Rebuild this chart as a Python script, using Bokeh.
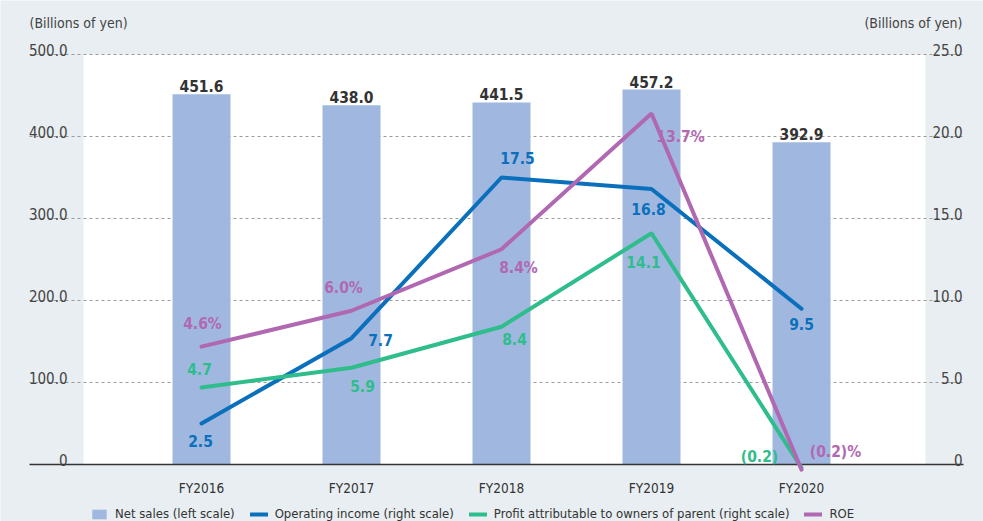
from bokeh.plotting import figure
from bokeh.models import Range1d, ColumnDataSource, Legend, LegendItem
from bokeh.core.properties import value
from bokeh.embed import file_html
from bokeh.resources import INLINE

# ---------------- data ----------------
categories = ["FY2016", "FY2017", "FY2018", "FY2019", "FY2020"]
net_sales = [451.6, 438.0, 441.5, 457.2, 392.9]           # left scale
operating_income = [2.5, 7.7, 17.5, 16.8, 9.5]           # right scale
profit_parent = [4.7, 5.9, 8.4, 14.1, -0.2]              # right scale
roe = [4.6, 6.0, 8.4, 13.7, -0.2]                        # %, own scale (0-16)
left_ticks = [0, 100, 200, 300, 400, 500]
left_tick_labels = ["0", "100.0", "200.0", "300.0", "400.0", "500.0"]
right_ticks = [0, 5, 10, 15, 20, 25]
right_tick_labels = ["0", "5.0", "10.0", "15.0", "20.0", "25.0"]
unit_label = "(Billions of yen)"
series_names = ["Net sales (left scale)", "Operating income (right scale)",
                "Profit attributable to owners of parent (right scale)", "ROE"]

# ---------------- styles ----------------
FONT = "DejaVu Sans Condensed, Roboto, sans-serif"
BG = "#e8eef1"
BAR = "#a0b8e0"
BLUE = "#0a70bc"
GREEN = "#2ebd8b"
PURPLE = "#b168b2"
TEXT = "#333333"

W, H = 983, 521
PX = 0.82                     # pixels per left-scale unit
RIGHT_F = 20.0                # left units per right unit
ROE_F = 500.0 / 16.0          # left units per ROE point
BASE = 464                    # pixel row of the zero line
X0, DX = 201, 150             # pixel column of first category, spacing
y_lo, y_hi = (BASE - H) / PX, BASE / PX

xs = list(range(len(categories)))

p = figure(width=W, height=H, output_backend="svg", toolbar_location=None,
           x_range=Range1d(-X0 / DX, (W - X0) / DX), y_range=Range1d(y_lo, y_hi),
           x_axis_location=None, y_axis_location=None,
           min_border_left=0, min_border_right=0,
           min_border_top=0, min_border_bottom=0)
p.extra_y_ranges = {"right": Range1d(y_lo / RIGHT_F, y_hi / RIGHT_F),
                    "roe": Range1d(y_lo / ROE_F, y_hi / ROE_F)}
p.background_fill_color = BG
p.border_fill_color = BG
p.outline_line_color = None
p.grid.visible = False

# white plotting panel
p.quad(left=[(83 - X0) / DX], right=[(925 - X0) / DX], bottom=[0],
       top=[left_ticks[-1]], fill_color="white", line_color=None)

# gridlines
gx0, gx1 = (29 - X0) / DX, (963 - X0) / DX
p.segment(x0=[gx0] * (len(left_ticks) - 1), x1=[gx1] * (len(left_ticks) - 1),
          y0=left_ticks[1:], y1=left_ticks[1:], line_color="#9a9a9a",
          line_width=1, line_dash="3 3")

# bars
bars = p.vbar(x=xs, top=net_sales, bottom=0, width=58 / DX, fill_color=BAR,
              line_color=None)

# baseline
p.segment(x0=[gx0], x1=[gx1], y0=[0], y1=[0], line_color="#333333", line_width=1.5)

# lines
r_op = p.line(xs, operating_income, y_range_name="right", line_color=BLUE,
              line_width=4, line_cap="round")
r_pr = p.line(xs, profit_parent, y_range_name="right", line_color=GREEN,
              line_width=4, line_cap="round")
r_roe = p.line(xs, roe, y_range_name="roe", line_color=PURPLE,
               line_width=4, line_cap="round")

# category labels
p.text(x=xs, y=[0] * len(xs), text=categories, text_align="center",
       text_baseline="middle", y_offset=23, text_font=value(FONT),
       text_font_size="13.5px", text_color=TEXT)

# axis tick labels (drawn above gridlines as in the original)
p.text(x=[(67 - X0) / DX] * len(left_ticks), y=left_ticks, text=left_tick_labels,
       text_align="right", text_baseline="alphabetic", y_offset=-5,
       text_font=value(FONT), text_font_size="15px", text_color="#444444")
p.text(x=[(962 - X0) / DX] * len(right_ticks), y=right_ticks,
       text=right_tick_labels, y_range_name="right", text_align="right",
       text_baseline="alphabetic", y_offset=-5, text_font=value(FONT),
       text_font_size="15px", text_color="#444444")
p.text(x=[gx0], y=[539], text=[unit_label], text_align="left",
       text_baseline="middle", text_font=value(FONT), text_font_size="14px",
       text_color="#444444")
p.text(x=[(962 - X0) / DX], y=[539], text=[unit_label], text_align="right",
       text_baseline="middle", text_font=value(FONT), text_font_size="14px",
       text_color="#444444")

# bar value labels
p.text(x=xs, y=net_sales, text=[f"{v:.1f}" for v in net_sales],
       text_align="center", text_baseline="alphabetic", y_offset=-8,
       text_font=value(FONT), text_font_size="15.5px", text_font_style="bold",
       text_color=TEXT)


def fmt(v, pct=False):
    s = f"({abs(v):.1f})" if v < 0 else f"{v:.1f}"
    return s + ("%" if pct else "")


op_off = ([-1, 29, 16, -3, 0], [17, 2, -20, 20, 15])
pr_off = ([-2, 11, 13, -8, -42], [-18, 18, 12, 29, -11])
roe_off = ([1, -8, 17, 29, 34], [-23, -23, 19, 24, -18])

for vals, off, col, rng, pct in [
        (operating_income, op_off, BLUE, "right", False),
        (profit_parent, pr_off, GREEN, "right", False),
        (roe, roe_off, PURPLE, "roe", True)]:
    src = ColumnDataSource(dict(x=xs, y=vals, t=[fmt(v, pct) for v in vals],
                                dx=off[0], dy=off[1]))
    p.text(x="x", y="y", text="t", x_offset="dx", y_offset="dy", source=src,
           y_range_name=rng, text_align="center", text_baseline="middle",
           text_font=value(FONT), text_font_size="15.5px",
           text_font_style="bold", text_color=col)

legend = Legend(items=[LegendItem(label=series_names[0], renderers=[bars]),
                       LegendItem(label=series_names[1], renderers=[r_op]),
                       LegendItem(label=series_names[2], renderers=[r_pr]),
                       LegendItem(label=series_names[3], renderers=[r_roe])],
                orientation="horizontal", location=(90, 0),
                background_fill_alpha=0, border_line_color=None,
                label_text_font=FONT, label_text_font_size="13px",
                label_text_color=TEXT, glyph_width=18, glyph_height=12,
                label_height=14, label_standoff=7, spacing=15, padding=0,
                margin=0)
p.add_layout(legend)

open("out.html", "w").write(file_html(p, INLINE))
